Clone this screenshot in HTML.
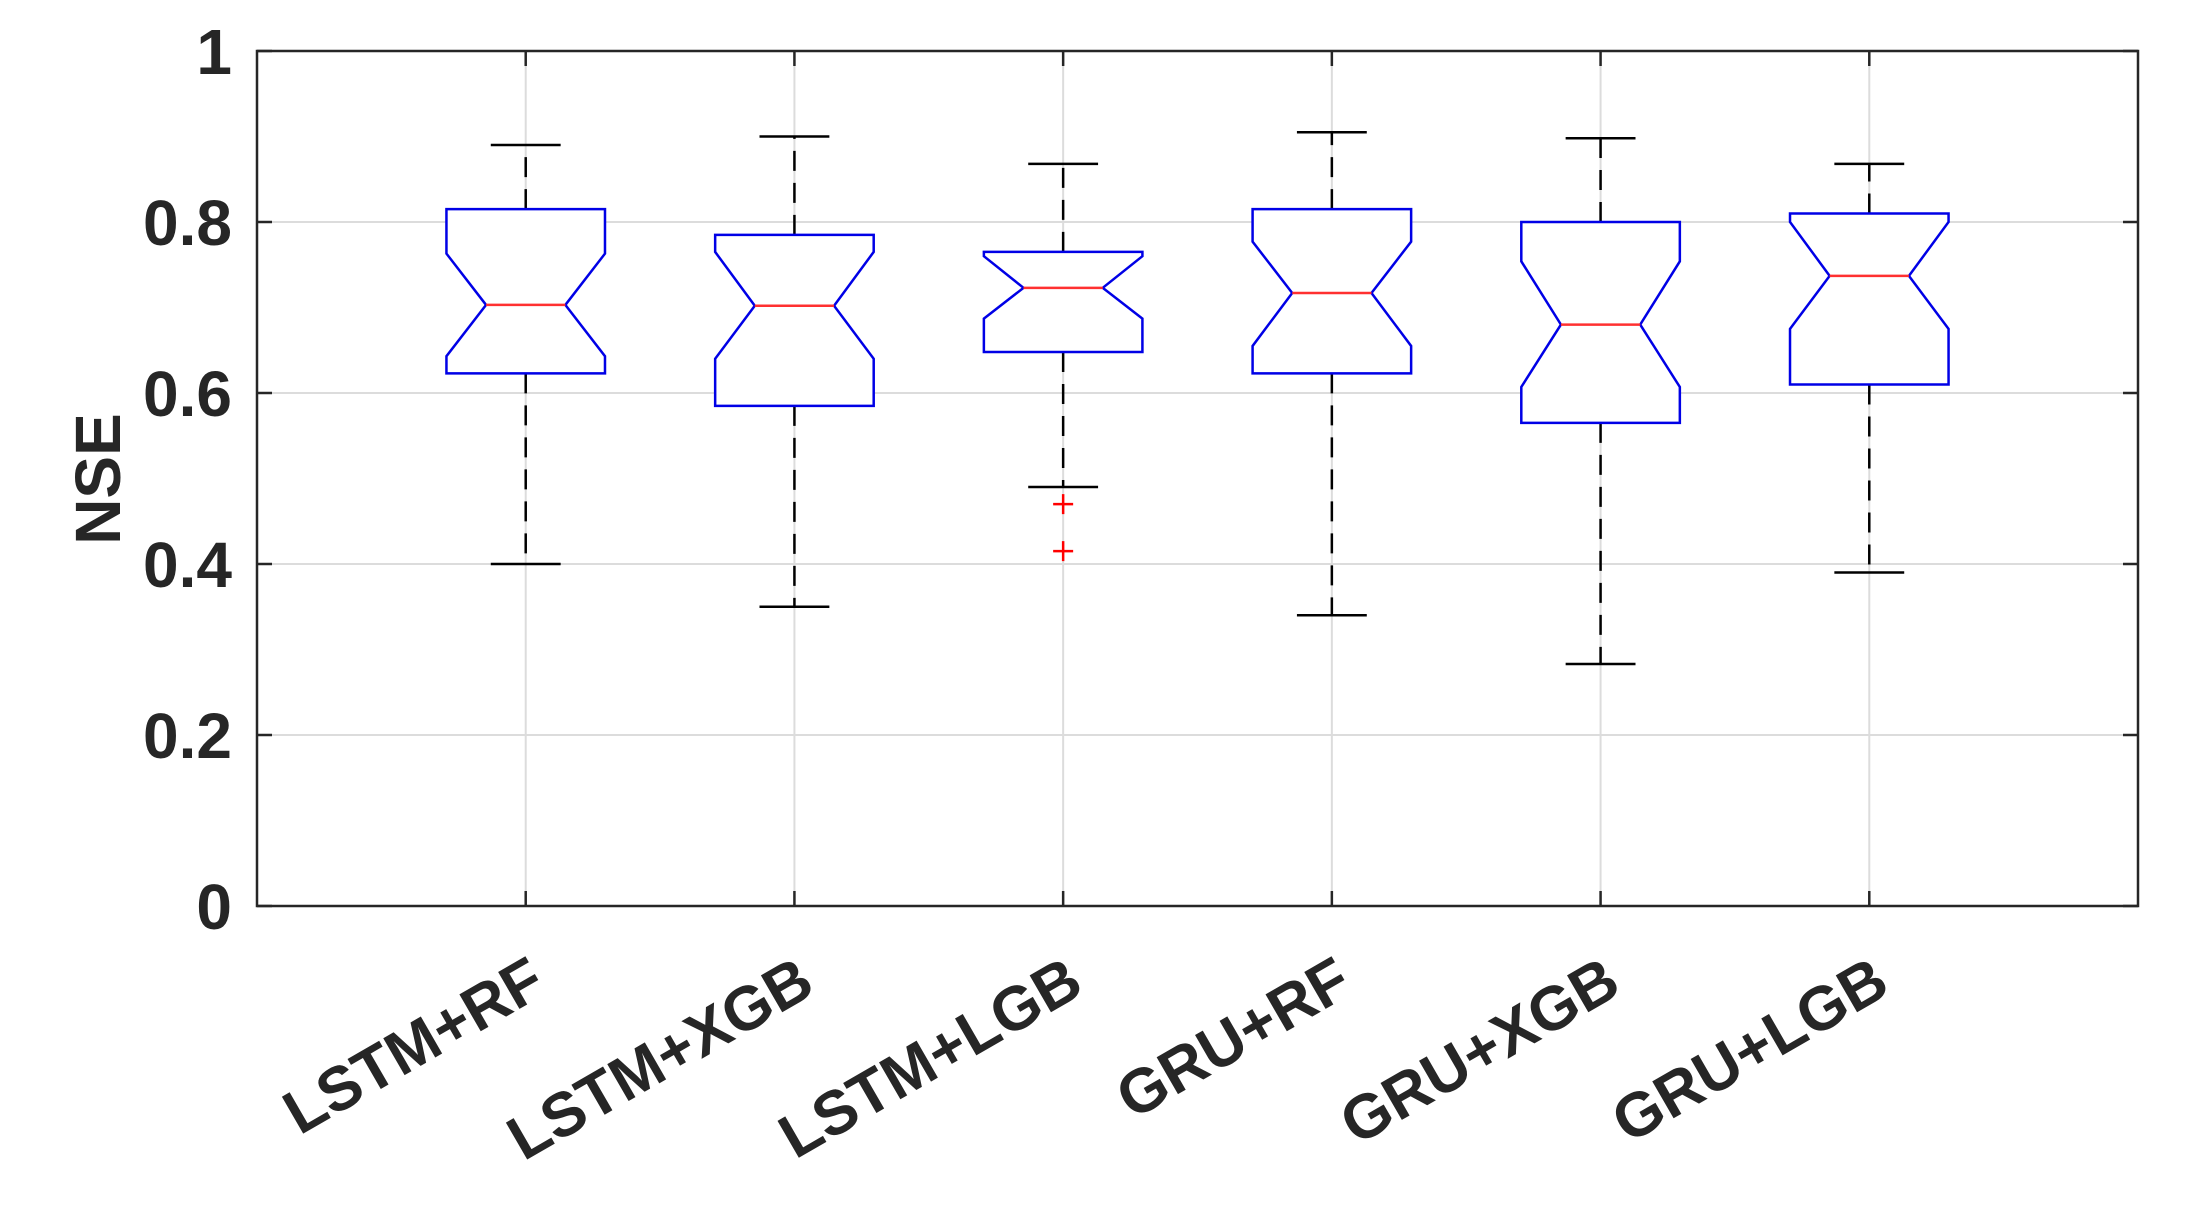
<!DOCTYPE html>
<html><head><meta charset="utf-8"><style>
html,body{margin:0;padding:0;background:#fff;}
svg{display:block;}
text{font-family:"Liberation Sans",Arial,sans-serif;font-weight:bold;fill:#262626;}
</style></head><body>
<svg id="chart" width="2186" height="1210" viewBox="0 0 2186 1210" xmlns="http://www.w3.org/2000/svg">
<g id="grid"></g>
<g id="boxes"></g>
<rect x="257" y="51" width="1881" height="855" fill="none" stroke="#262626" stroke-width="2.5"/>
<g id="ticks"></g>
<text x="0" y="0" font-size="64" text-anchor="middle" transform="translate(120,479) rotate(-90)">NSE</text>
</svg>
<script>
const categories = ["LSTM+RF","LSTM+XGB","LSTM+LGB","GRU+RF","GRU+XGB","GRU+LGB"];
const whiskerLow = [0.40,0.35,0.49,0.34,0.283,0.39];
const whiskerHigh = [0.89,0.90,0.868,0.905,0.898,0.868];
const q1 = [0.623,0.585,0.648,0.623,0.565,0.61];
const q3 = [0.815,0.785,0.765,0.815,0.80,0.81];
const medians = [0.703,0.702,0.723,0.717,0.68,0.737];
const notchLow = [0.643,0.64,0.687,0.655,0.607,0.675];
const notchHigh = [0.763,0.765,0.76,0.777,0.754,0.80];
const outliers = [[],[],[0.47,0.415],[],[],[]];
const yTicks = [0,0.2,0.4,0.6,0.8,1];
const yTickLabels = ["0","0.2","0.4","0.6","0.8","1"];

const L=257,R=2138,T=51,B=906;
const UNIT=(R-L)/7;
const x = v => L + v*UNIT;
const y = v => B - v*(B-T);
const NS="http://www.w3.org/2000/svg";
function mk(tag, attrs, parent){const e=document.createElementNS(NS,tag);for(const k in attrs)e.setAttribute(k,attrs[k]);parent.appendChild(e);return e;}
const grid=document.getElementById('grid'), boxes=document.getElementById('boxes'), ticks=document.getElementById('ticks'), svg=document.getElementById('chart');

yTicks.forEach((t,i)=>{
  const g=mk('line',{x1:L,x2:R,y1:y(t),y2:y(t),stroke:'#dcdcdc','stroke-width':2},grid);
  
  
  const a=mk('line',{x1:L,x2:L+15,y1:y(t),y2:y(t),stroke:'#262626','stroke-width':2.5},ticks);
  
  
  const b=mk('line',{x1:R-15,x2:R,y1:y(t),y2:y(t),stroke:'#262626','stroke-width':2.5},ticks);
  
  
  const lb=mk('text',{x:232,y:y(t)+23,'font-size':64,'text-anchor':'end'},svg);
  lb.textContent=yTickLabels[i];
  
  
});

categories.forEach((c,i)=>{
  const cx=x(i+1);
  const bw=0.295*UNIT, nw=bw/2, cw=0.13*UNIT;
  const g=mk('line',{x1:cx,x2:cx,y1:T,y2:B,stroke:'#dcdcdc','stroke-width':2},grid);
  
  
  const tb=mk('line',{x1:cx,x2:cx,y1:B-15,y2:B,stroke:'#262626','stroke-width':2.5},ticks);
  
  
  const tt=mk('line',{x1:cx,x2:cx,y1:T,y2:T+15,stroke:'#262626','stroke-width':2.5},ticks);
  
  
  const grp=mk('g',{},boxes);
  
  
  const dash={stroke:'#000','stroke-width':2.5,'stroke-dasharray':'20,12'};
  const w1=mk('line',Object.assign({x1:cx,x2:cx,y1:y(q3[i]),y2:y(whiskerHigh[i])},dash),grp);
  
  
  const w2=mk('line',Object.assign({x1:cx,x2:cx,y1:y(q1[i]),y2:y(whiskerLow[i])},dash),grp);
  
  
  const c1=mk('line',{x1:cx-cw,x2:cx+cw,y1:y(whiskerHigh[i]),y2:y(whiskerHigh[i]),stroke:'#000','stroke-width':2.5},grp);
  
  
  const c2=mk('line',{x1:cx-cw,x2:cx+cw,y1:y(whiskerLow[i]),y2:y(whiskerLow[i]),stroke:'#000','stroke-width':2.5},grp);
  
  
  const pts=[[cx-bw,y(q3[i])],[cx+bw,y(q3[i])],[cx+bw,y(notchHigh[i])],[cx+nw,y(medians[i])],[cx+bw,y(notchLow[i])],[cx+bw,y(q1[i])],[cx-bw,y(q1[i])],[cx-bw,y(notchLow[i])],[cx-nw,y(medians[i])],[cx-bw,y(notchHigh[i])]];
  const bx=mk('polygon',{points:pts.map(p=>p.join(',')).join(' '),fill:'#fff',stroke:'#0000e6','stroke-width':2.5},grp);
  
  
  const md=mk('line',{x1:cx-nw,x2:cx+nw,y1:y(medians[i]),y2:y(medians[i]),stroke:'#ff3030','stroke-width':2.5},grp);
  
  
  outliers[i].forEach(o=>{
    const p=mk('path',{d:`M${cx-10},${y(o)}H${cx+10}M${cx},${y(o)-10}V${y(o)+10}`,stroke:'#ff0000','stroke-width':2.5},grp);
    
    
  });
  const lb=mk('text',{x:0,y:0,'font-size':62,'text-anchor':'end',transform:`translate(${cx+23},992) rotate(-30)`},svg);
  lb.textContent=c;
  
  
});
</script>
</body></html>
